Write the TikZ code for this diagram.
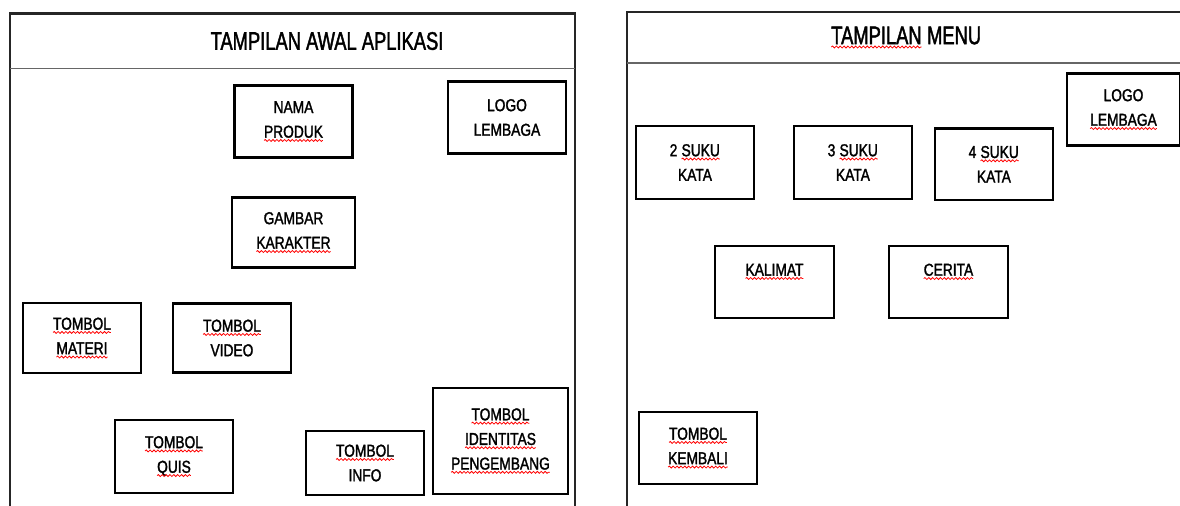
\documentclass[tikz,border=0pt]{standalone}
\usepackage{fontspec}
\usepackage{tikz}
\usetikzlibrary{positioning, decorations.pathmorphing}
\newfontfamily\boxfont[FakeStretch=0.8, FakeBold=1.6]{Liberation Sans}
\newfontfamily\titlefont[FakeStretch=0.72, FakeBold=1.6]{Liberation Sans}
\tikzset{
  basebox/.style={
    rectangle, draw=black, line width=1.4pt, align=center, outer sep=0pt,
    font=\boxfont\fontsize{9.8}{14}\selectfont, inner sep=2pt,
    minimum width=2.36cm, minimum height=1.44cm
  },
  titletext/.style={font=\titlefont\fontsize{14.5}{16}\selectfont, inner sep=1pt},
  panelline/.style={line width=1.3pt, draw=black!85},
  headline/.style={line width=0.7pt, draw=black!60},
  spellmark/.style={draw=red, line width=0.45pt, decorate,
    decoration={snake, amplitude=0.55pt, segment length=2.2pt}}
}
% red wavy mark under a word
\newcommand{\spell}[1]{\tikz[baseline=(sp.base)]{%
  \node[inner sep=0pt, outer sep=0pt, minimum width=0pt, minimum height=0pt,
        draw=none, line width=0.4pt] (sp) {#1};
  \draw[spellmark] ([yshift=-1.6pt]sp.base west) -- ([yshift=-1.6pt]sp.base east);}}

\begin{document}
\begin{tikzpicture}[x=0.02cm, y=-0.02cm]
  \useasboundingbox (0,0) rectangle (1180,505);
  \clip (0,0) rectangle (1180,505);

  % panel awal aplikasi
  \draw[panelline] (10,510) |- (575,13.5) -- (575,510);
  \draw[headline] (10,68.5) -- (575,68.5);
  \node[titletext] (judulawal) at (327,41) {TAMPILAN AWAL APLIKASI};

  \node[basebox] (nama) at (293.5,121.5) {NAMA\\\spell{PRODUK}};
  \node[basebox] (logoawal) at (507,117.5) {LOGO\\LEMBAGA};
  \node[basebox, minimum width=2.46cm, minimum height=1.4cm, below=0.8cm of nama] (gambar)
        {GAMBAR\\\spell{KARAKTER}};
  \node[basebox, minimum height=1.4cm] (materi) at (82,338) {\spell{TOMBOL}\\\spell{MATERI}};
  \node[basebox, minimum height=1.38cm, right=0.64cm of materi] (video)
        {\spell{TOMBOL}\\VIDEO};
  \node[basebox, minimum height=1.46cm] (quis) at (174,456.5) {\spell{TOMBOL}\\\spell{QUIS}};
  \node[basebox, minimum height=1.28cm] (info) at (365,463) {\spell{TOMBOL}\\INFO};
  \node[basebox, minimum width=2.7cm, minimum height=2.12cm] (pengembang) at (500.5,441)
        {\spell{TOMBOL}\\\spell{IDENTITAS}\\\spell{PENGEMBANG}};

  % panel menu
  \draw[panelline] (627,510) |- (1190,12);
  \draw[headline] (627,63) -- (1190,63);
  \node[titletext] (judulmenu) at (906,37.5) {\spell{TAMPILAN} MENU};

  \node[basebox, minimum width=2.26cm] (logomenu) at (1123.5,109.5) {LOGO\\\spell{LEMBAGA}};
  \node[basebox, minimum height=1.46cm] (suku2) at (695,162.5) {2 \spell{SUKU}\\KATA};
  \node[basebox, minimum height=1.46cm, right=0.8cm of suku2] (suku3) {3 \spell{SUKU}\\KATA};
  \node[basebox, right=0.46cm of suku3, yshift=-1pt] (suku4) {4 \spell{SUKU}\\KATA};
  \node[basebox, minimum width=2.38cm] (kalimat) at (774.5,282) {\spell{KALIMAT}\\\mbox{}};
  \node[basebox, minimum width=2.38cm, right=1.1cm of kalimat] (cerita) {\spell{CERITA}\\\mbox{}};
  \node[basebox] (kembali) at (698,448) {\spell{TOMBOL}\\\spell{KEMBALI}};
\end{tikzpicture}
\end{document}
